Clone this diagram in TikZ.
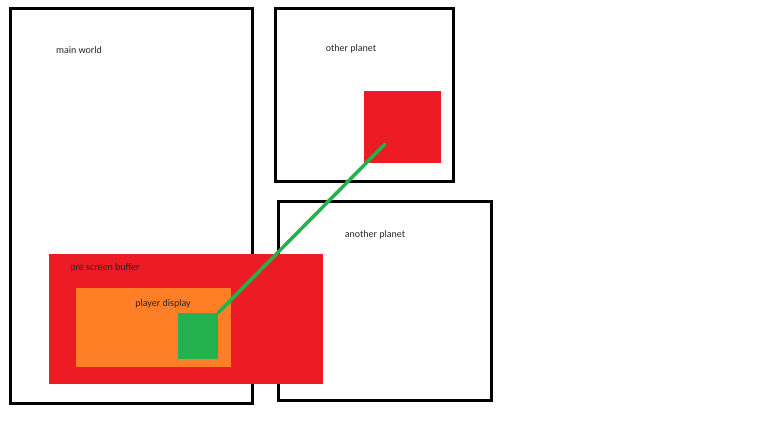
\documentclass[tikz,border=0pt]{standalone}
\usepackage{fontspec}
\setmainfont{Carlito}
\definecolor{paintred}{HTML}{ED1C24}
\definecolor{paintorange}{HTML}{FF7F27}
\definecolor{paintgreen}{HTML}{22B14C}
\tikzset{
	worldbox/.style={line width=3pt, color=black},
	label/.style={font=\fontsize{10}{12}\selectfont, text=black!85, inner sep=0pt},
	block/.style={inner sep=0pt, outer sep=0pt, anchor=north west}
}

\begin{document}
\begin{tikzpicture}[x=1pt, y=-1pt]
		%%%%% START %%%%%
		\useasboundingbox (0, 0) rectangle (770, 420);
		
		\draw[worldbox] (10, 9) rectangle (252, 403);
		\draw[worldbox] (275, 9) rectangle (453, 181);
		\draw[worldbox] (278, 201) rectangle (491, 400);
		
		\node[block, fill=paintred, minimum width=77pt, minimum height=72pt] (portal) at (364, 91) {};
		
		\node[block, fill=paintred, minimum width=274pt, minimum height=130pt] (buffer) at (49, 254) {};
		\node[block, fill=paintorange, minimum width=155pt, minimum height=79pt] (display) at (76, 288) {};
		\node[block, fill=paintgreen, minimum width=40pt, minimum height=46pt] (camera) at (178, 313) {};
		
		\node[label] (mainlabel) at (79, 50) {main world};
		\node[label] (otherlabel) at (351, 49) {other planet};
		\node[label] (anotherlabel) at (375, 235) {another planet};
		\node[label] (bufferlabel) at (105, 268) {pre screen buffer};
		\node[label] (displaylabel) at (163, 304) {player display};
		
		\coordinate (view) at (385, 144);
		\draw[line width=3.5pt, color=paintgreen, line cap=round] (camera.north east) -- (view);
		
		%%%%% END %%%%%
	\end{tikzpicture}
\end{document}
